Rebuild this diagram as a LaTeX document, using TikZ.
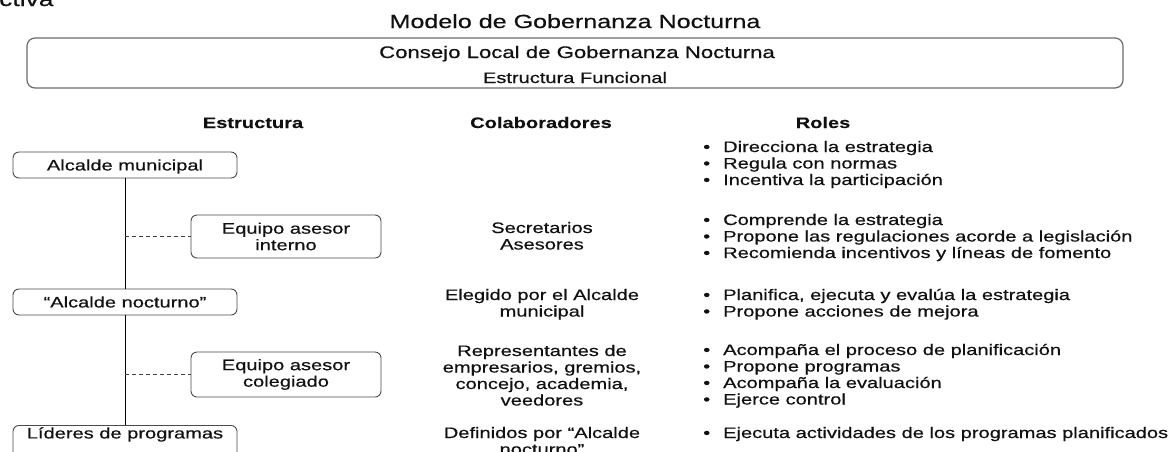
\documentclass[tikz,border=0pt]{standalone}
\usepackage{fontspec}
\setmainfont{Liberation Sans}[FakeStretch=1.32, FakeBold=0.5, BoldFeatures={FakeBold=0.15}]
\definecolor{txt}{HTML}{111111}
\definecolor{boxline}{HTML}{4A4A4A}
\definecolor{outerline}{HTML}{6A6A6A}
\newcommand\myfont{\fontsize{15.2}{16.5}\selectfont}
\newcommand\bl[1]{\makebox[21pt][l]{\hspace{1pt}•}#1}
\tikzset{
  box/.style={draw=boxline, line width=0.9pt, rounded corners=6pt, inner sep=0pt,
              font=\myfont, text=txt, align=center},
  lbl/.style={inner sep=0pt, font=\myfont, text=txt},
  head/.style={inner sep=0pt, font=\myfont\bfseries, text=txt, anchor=base},
  colab/.style={lbl, align=center, anchor=base},
  roles/.style={lbl, align=left, anchor=base west},
  link/.style={draw=black, line width=0.9pt},
  dlink/.style={draw=black!75, line width=0.9pt, dash pattern=on 4pt off 3pt},
}
\begin{document}
\begin{tikzpicture}[x=1pt,y=-1pt]
\useasboundingbox (0,0) rectangle (1172,451);
\clip (0,0) rectangle (1172,451);
\fill[white] (0,0) rectangle (1172,451);

% cut-off fragment at top left
\node[lbl, anchor=base west, font=\fontsize{20}{22}\selectfont] (frag) at (-1,6) {ctiva};

% titles
\node[lbl, anchor=base, font=\fontsize{19}{21}\selectfont] (title) at (575,28) {Modelo de Gobernanza Nocturna};
\node[draw=outerline, line width=1.2pt, rounded corners=8pt, minimum width=1096, minimum height=50, inner sep=0pt] (consejo) at (575,63) {};
\node[lbl, anchor=base, font=\fontsize{16.8}{18}\selectfont] (consejot) at (577,58) {Consejo Local de Gobernanza Nocturna};
\node[lbl, anchor=base] (funcional) at (575,83) {Estructura Funcional};

% column headers
\node[head] (hest) at (253,128) {Estructura};
\node[head] (hcol) at (541,128) {Colaboradores};
\node[head] (hrol) at (823,128) {Roles};

% structure boxes
\node[box, minimum width=224, minimum height=26, text height=10.9pt, text depth=0pt] (am) at (125,165) {Alcalde municipal};
\node[box, minimum width=190, minimum height=43] (eai) at (286,236.5) {Equipo asesor\\interno};
\node[box, minimum width=224, minimum height=26, text height=10.9pt, text depth=0pt] (an) at (125,302) {“Alcalde nocturno”};
\node[box, minimum width=190, minimum height=45] (eac) at (286,374.5) {Equipo asesor\\colegiado};
\node[box, anchor=north, minimum width=224, inner ysep=2pt, text height=11pt, text depth=22pt] (lp) at (125,425) {Líderes de programas};

% connectors
\draw[link] (am.south) -- (an.north);
\draw[link] (an.south) -- (lp.north);
\coordinate (d1) at (eai.west -| am.south);
\coordinate (d2) at (eac.west -| an.south);
\draw[dlink] (d1) -- (eai.west);
\draw[dlink] (d2) -- (eac.west);

% collaborators (anchor = baseline of last line)
\node[colab] (c1) at (542,249.5) {Secretarios\\Asesores};
\node[colab] (c2) at (542,316.5) {Elegido por el Alcalde\\municipal};
\node[colab] (c3) at (542,405.5) {Representantes de\\empresarios, gremios,\\concejo, academia,\\veedores};
\node[colab] (c4) at (542,454.5) {Definidos por “Alcalde\\nocturno”};

% roles (anchor = baseline of last line)
\node[roles] (r1) at (702,185) {\bl{Direcciona la estrategia}\\\bl{Regula con normas}\\\bl{Incentiva la participación}};
\node[roles] (r2) at (702,258) {\bl{Comprende la estrategia}\\\bl{Propone las regulaciones acorde a legislación}\\\bl{Recomienda incentivos y líneas de fomento}};
\node[roles] (r3) at (702,316.5) {\bl{Planifica, ejecuta y evalúa la estrategia}\\\bl{Propone acciones de mejora}};
\node[roles] (r4) at (702,404.5) {\bl{Acompaña el proceso de planificación}\\\bl{Propone programas}\\\bl{Acompaña la evaluación}\\\bl{Ejerce control}};
\node[roles] (r5) at (702,438) {\bl{Ejecuta actividades de los programas planificados}};
\end{tikzpicture}
\end{document}
